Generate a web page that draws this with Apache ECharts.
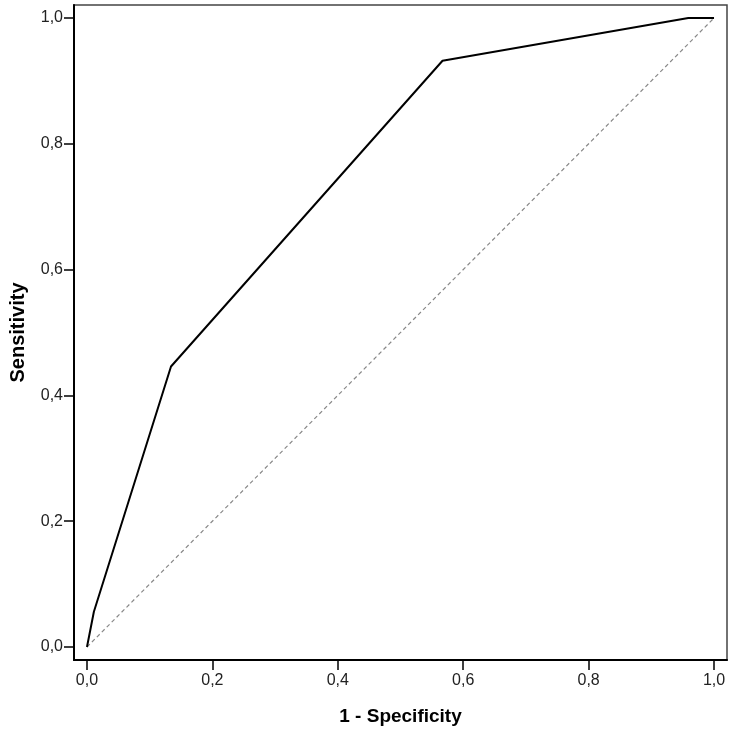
<!DOCTYPE html>
<html>
<head>
<meta charset="utf-8">
<script src="https://cdn.jsdelivr.net/npm/echarts@6/dist/echarts.min.js"></script>
<style>html,body{margin:0;padding:0;background:#fff}#c{width:735px;height:735px}</style>
</head>
<body>
<div id="c"></div>
<script>
const rocX = [0, 0.011, 0.134, 0.567, 0.959, 1.0];
const rocY = [0, 0.056, 0.446, 0.932, 1.0, 1.0];
const refX = [0, 1];
const refY = [0, 1];
const tickValues = [0, 0.2, 0.4, 0.6, 0.8, 1.0];
const xTitle = '1 - Specificity';
const yTitle = 'Sensitivity';

const fmt = v => v.toFixed(1).replace('.', ',');
const chart = echarts.init(document.getElementById('c'));
const axisCommon = {
  type: 'value', min: -0.0207, max: 1.0207,
  splitLine: { show: false },
  axisLine: { show: true, onZero: false, lineStyle: { color: '#000', width: 2 } },
  axisTick: { show: true, customValues: tickValues, length: 10, lineStyle: { color: '#000', width: 1.5 } },
  axisLabel: { customValues: tickValues, formatter: fmt, color: '#222', fontSize: 16, fontFamily: 'Liberation Sans, Arial, sans-serif' },
  nameLocation: 'middle',
  nameTextStyle: { fontWeight: 'bold', fontSize: 19, color: '#000', fontFamily: 'Liberation Sans, Arial, sans-serif' }
};
chart.setOption({
  animation: false,
  backgroundColor: '#fff',
  grid: { left: 73, right: 8, top: 5, bottom: 75, show: true, borderColor: '#444', borderWidth: 1.5, backgroundColor: 'transparent' },
  xAxis: Object.assign({}, axisCommon, { name: xTitle, nameGap: 47, axisLabel: Object.assign({}, axisCommon.axisLabel, { margin: 13 }) }),
  yAxis: Object.assign({}, axisCommon, { name: yTitle, nameGap: 46,
    nameTextStyle: Object.assign({}, axisCommon.nameTextStyle, { fontSize: 20 }),
    axisLabel: Object.assign({}, axisCommon.axisLabel, { margin: 11 }) }),
  series: [
    { type: 'line', data: refX.map((x, i) => [x, refY[i]]), symbol: 'none', lineStyle: { color: '#888', width: 1.2, type: [4, 3] }, z: 1 },
    { type: 'line', data: rocX.map((x, i) => [x, rocY[i]]), symbol: 'none', lineStyle: { color: '#000', width: 2 }, z: 2 }
  ]
});
</script>
</body>
</html>
